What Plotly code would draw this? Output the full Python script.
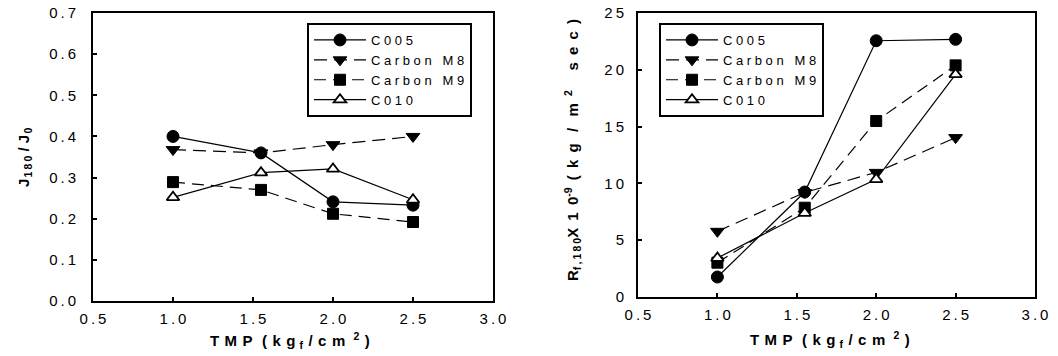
import plotly.graph_objects as go

# ---------------- data ----------------
tmp = [1.0, 1.55, 2.0, 2.5]

series_names = ["C005", "Carbon M8", "Carbon M9", "C010"]

j_c005 = [0.400, 0.360, 0.241, 0.233]
j_m8 = [0.368, 0.360, 0.380, 0.400]
j_m9 = [0.289, 0.270, 0.212, 0.192]
j_c010 = [0.252, 0.312, 0.321, 0.246]

r_c005 = [1.76, 9.24, 22.56, 22.68]
r_m8 = [5.78, 9.20, 10.97, 14.03]
r_m9 = [3.02, 7.86, 15.49, 20.39]
r_c010 = [3.43, 7.39, 10.36, 19.60]

x_ticks = [0.5, 1.0, 1.5, 2.0, 2.5, 3.0]
x_ticklabels = ["0.5", "1.0", "1.5", "2.0", "2.5", "3.0"]
yl_ticks = [0.0, 0.1, 0.2, 0.3, 0.4, 0.5, 0.6, 0.7]
yl_ticklabels = ["0.0", "0.1", "0.2", "0.3", "0.4", "0.5", "0.6", "0.7"]
yr_ticks = [0, 5, 10, 15, 20, 25]
yr_ticklabels = ["0", "5", "10", "15", "20", "25"]

# ---------------- styling ----------------
FONT = "Liberation Sans, Arial, sans-serif"
TH = "\u2009"
HS = "\u200a"
NB = "\u00a0"
W = NB + HS      # wide letter gap for bold titles
WW = NB + TH     # wider gap


def spaced(s, sep=TH):
    return sep.join(list(s))


styles = [
    dict(symbol="circle", size=12, color="black", line=dict(color="black", width=1), dash="solid"),
    dict(symbol="triangle-down", size=12, color="black", line=dict(color="black", width=1), dash="13px,7px"),
    dict(symbol="square", size=11, color="black", line=dict(color="black", width=1), dash="12px,7px"),
    dict(symbol="triangle-up", size=11, color="white", line=dict(color="black", width=1.8), dash="solid"),
]

legend_labels = [spaced(n, NB) for n in series_names]

fig = go.Figure()

left_data = [j_c005, j_m8, j_m9, j_c010]
right_data = [r_c005, r_m8, r_m9, r_c010]

for lab, ys, st in zip(legend_labels, left_data, styles):
    fig.add_trace(go.Scatter(
        x=tmp, y=ys, name=lab, mode="lines+markers",
        line=dict(color="black", width=1.2, dash=st["dash"]),
        marker=dict(symbol=st["symbol"], size=st["size"], color=st["color"], line=st["line"]),
        xaxis="x", yaxis="y", legend="legend",
    ))

for lab, ys, st in zip(legend_labels, right_data, styles):
    fig.add_trace(go.Scatter(
        x=tmp, y=ys, name=lab, mode="lines+markers",
        line=dict(color="black", width=1.2, dash=st["dash"]),
        marker=dict(symbol=st["symbol"], size=st["size"], color=st["color"], line=st["line"]),
        xaxis="x2", yaxis="y2", legend="legend2",
    ))

axis_common = dict(
    showgrid=False, zeroline=False, showline=True, mirror=True, automargin=False,
    linecolor="black", linewidth=2,
    ticks="inside", ticklen=4, tickwidth=1.5, tickcolor="black",
    tickfont=dict(family=FONT, size=15, color="black"),
)

x_tt = [spaced(t) for t in x_ticklabels]
yl_tt = [spaced(t) for t in yl_ticklabels]
yr_tt = [spaced(t) for t in yr_ticklabels]

legend_common = dict(
    xanchor="left", yanchor="top", bordercolor="black", borderwidth=2, bgcolor="white",
    font=dict(family=FONT, size=13, color="black"), itemwidth=52, tracegroupgap=0,
)

fig.update_layout(
    width=1058, height=356,
    margin=dict(l=0, r=0, t=0, b=0, autoexpand=False),
    paper_bgcolor="white", plot_bgcolor="white",
    font=dict(family=FONT, color="black"),
    xaxis=dict(domain=[93 / 1058, 493 / 1058], range=[0.5, 3.0], tickvals=x_ticks, ticktext=x_tt,
               anchor="y", ticklabelstandoff=3, **axis_common),
    yaxis=dict(domain=[1 - 301 / 356, 1 - 13 / 356], range=[0.0, 0.7], tickvals=yl_ticks, ticktext=yl_tt,
               anchor="x", ticklabelstandoff=12, **axis_common),
    xaxis2=dict(domain=[638 / 1058, 1035 / 1058], range=[0.5, 3.0], tickvals=x_ticks, ticktext=x_tt,
                anchor="y2", ticklabelstandoff=3, **axis_common),
    yaxis2=dict(domain=[1 - 297 / 356, 1 - 13 / 356], range=[0, 25], tickvals=yr_ticks, ticktext=yr_tt,
                anchor="x2", ticklabelstandoff=9, **axis_common),
    legend=dict(x=307 / 1058, y=1 - 23 / 356, **legend_common),
    legend2=dict(x=659 / 1058, y=1 - 23 / 356, **legend_common),
    showlegend=True,
)

xtitle = ("<b>T" + W + "M" + W + "P" + W + NB + "(" + W + "k" + W + "g" + NB + "<sub>f</sub>"
          + W + "/" + W + "c" + W + "m" + NB + NB + "<sup>2</sup>" + W + ")</b>")

ann_font = dict(family=FONT, size=15, color="black")
fig.add_annotation(text=xtitle, x=290 / 1058, y=1 - 340 / 356, xref="paper", yref="paper",
                   showarrow=False, font=ann_font, xanchor="center", yanchor="middle")
fig.add_annotation(text=xtitle, x=830 / 1058, y=1 - 339 / 356, xref="paper", yref="paper",
                   showarrow=False, font=ann_font, xanchor="center", yanchor="middle")

ytitle_left = ("<b>J" + HS + "<sub>1" + TH + "8" + TH + "0</sub>" + NB + "/" + NB + "J" + HS + "<sub>0</sub></b>")
fig.add_annotation(text=ytitle_left, x=24 / 1058, y=1 - 158 / 356, xref="paper", yref="paper",
                   showarrow=False, font=ann_font, textangle=-90, xanchor="center", yanchor="middle")

ytitle_right = ("<b>R<sub>f" + TH + "," + TH + "1" + TH + "8" + TH + "0</sub>X" + WW + "1" + WW + "0<sup>-9</sup>"
                + WW + "(" + WW + "k" + WW + "g" + WW + NB + "/" + WW + NB + "m" + WW + "<sup>2</sup>"
                + WW + NB + NB + NB + "s" + WW + "e" + WW + "c" + WW + ")</b>")
fig.add_annotation(text=ytitle_right, x=572 / 1058, y=1 - 150 / 356, xref="paper", yref="paper",
                   showarrow=False, font=ann_font, textangle=-90, xanchor="center", yanchor="middle")

fig.write_html("out.html")
